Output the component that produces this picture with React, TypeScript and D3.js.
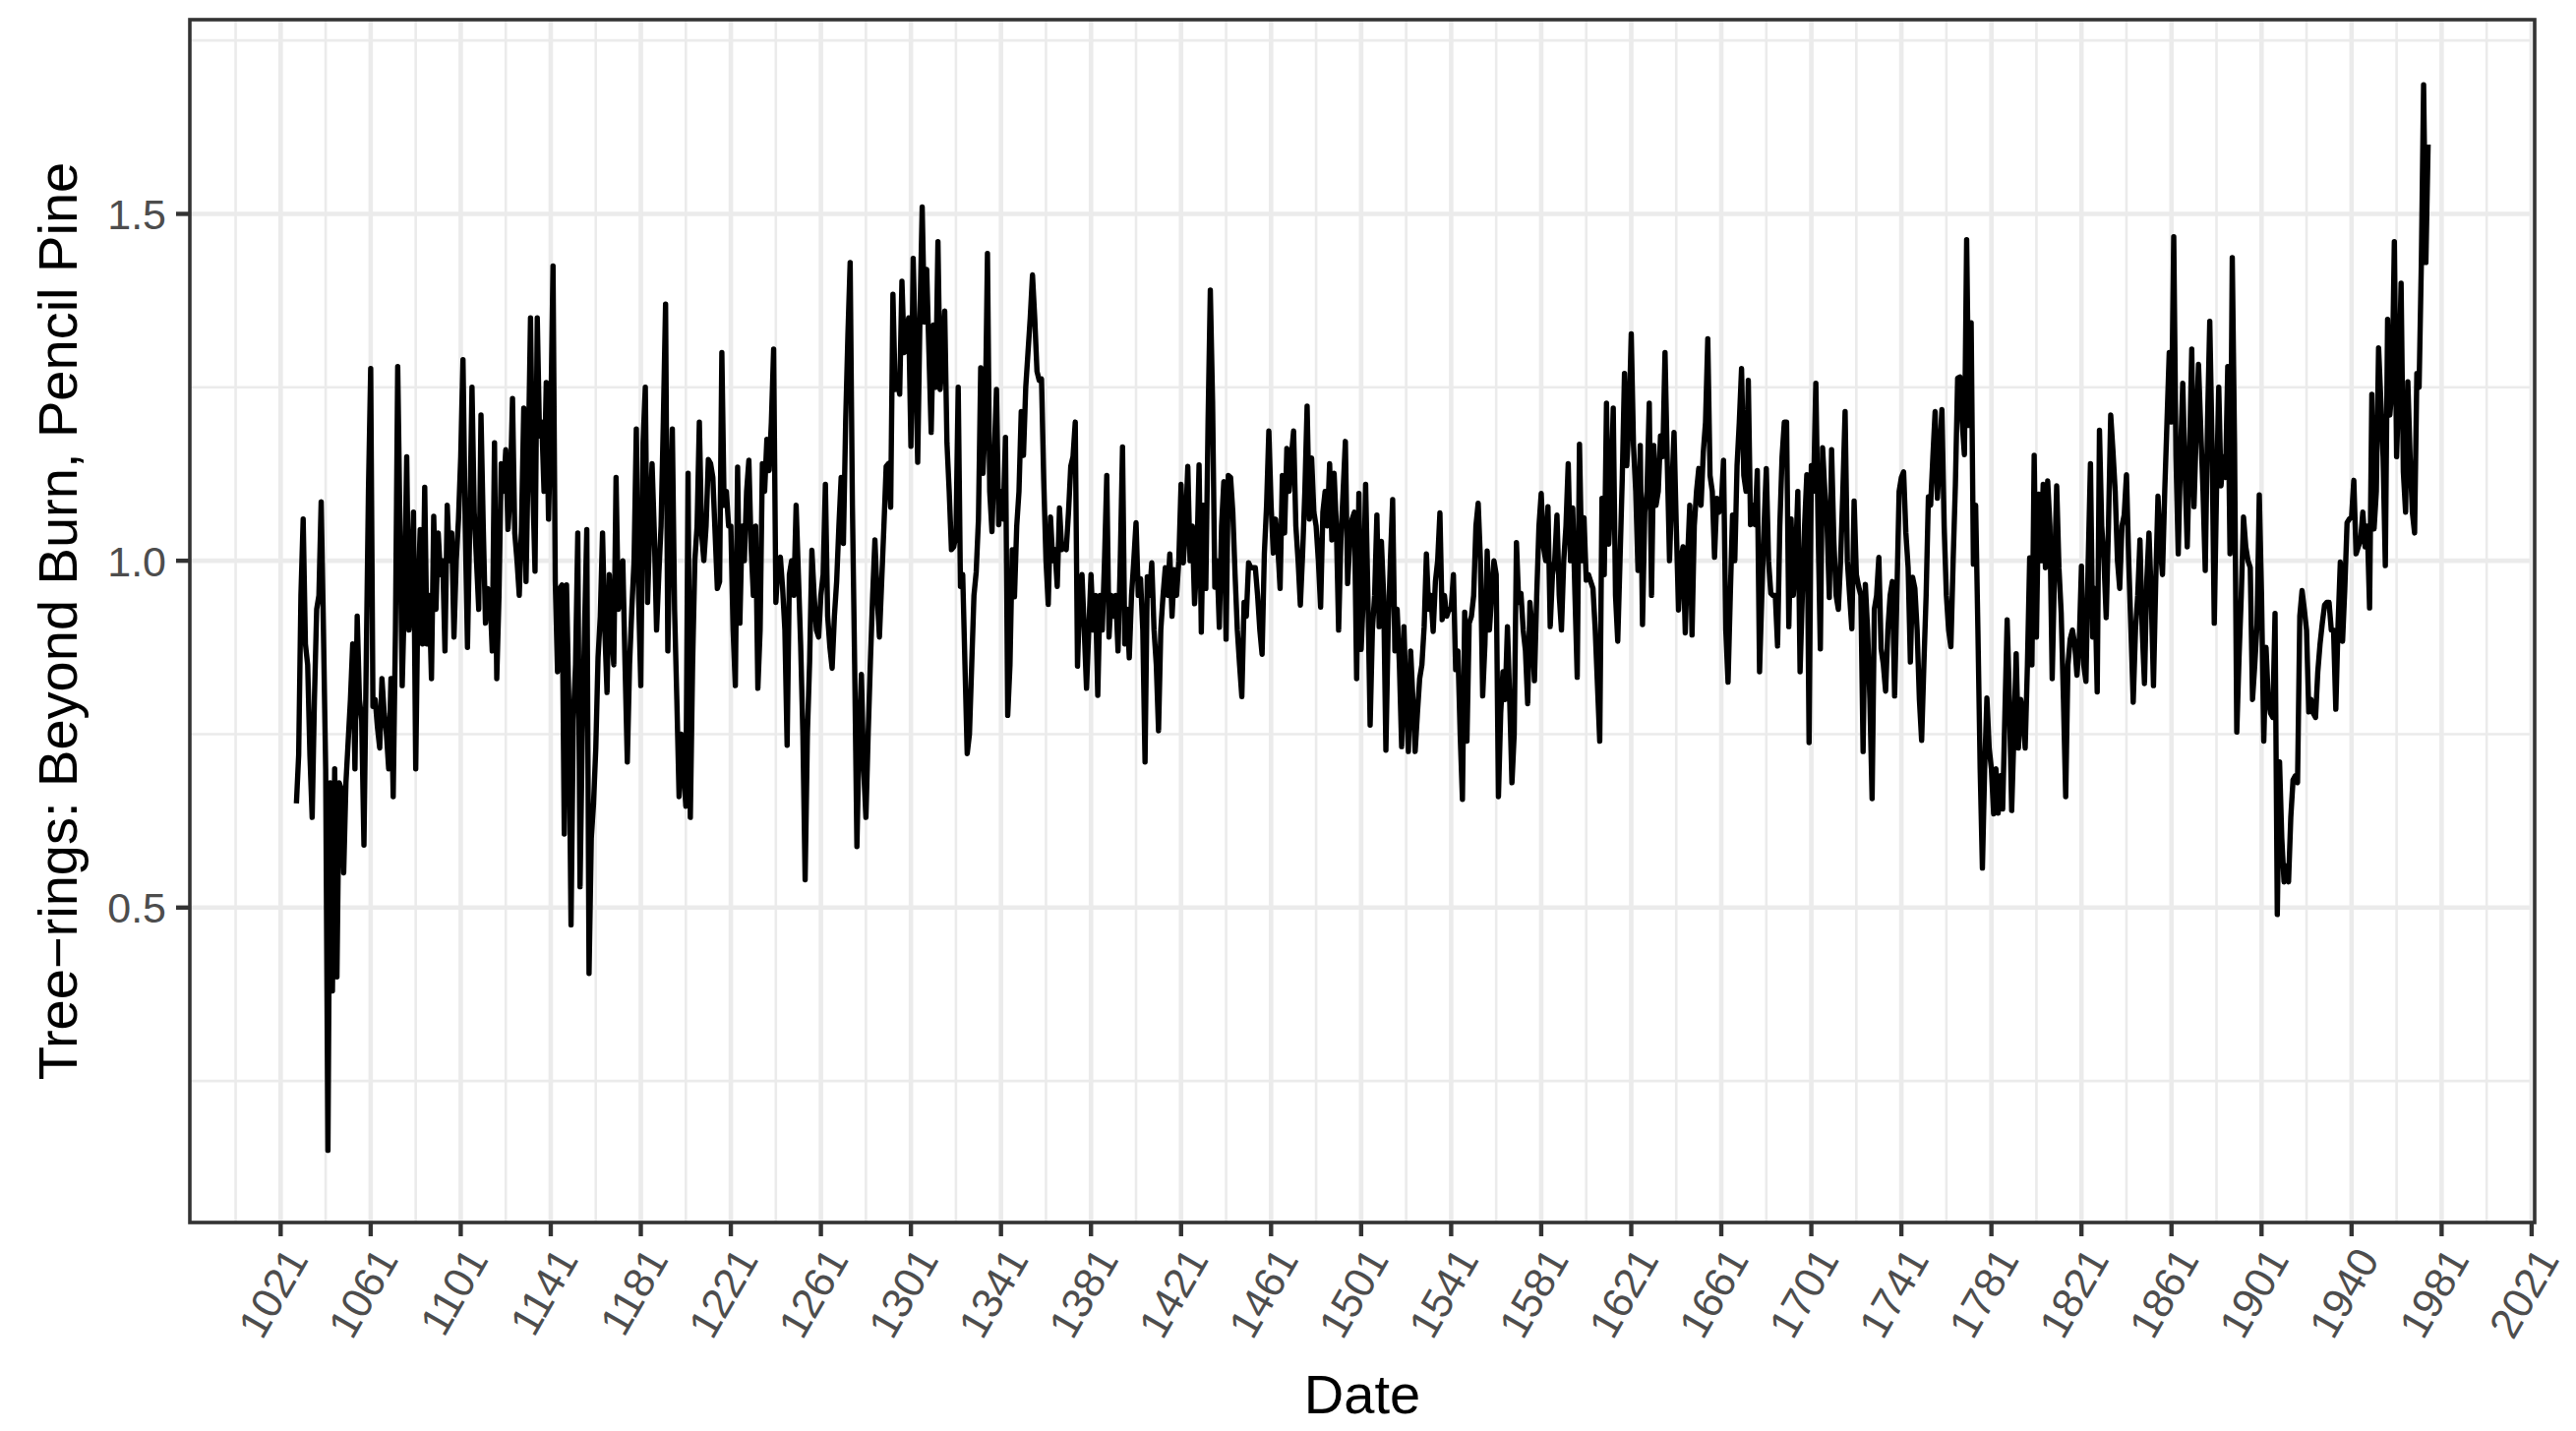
import React from "react";
import * as d3 from "d3";

// ---- data: annual tree-ring index, one value per year starting at startYear ----
const startYear = 1028;
const ringIndex: number[] = [
  /*1028*/ 0.65, 0.72,
  /*1030*/ 0.95, 1.06, 0.88, 0.85, 0.72, 0.63, 0.80, 0.93, 0.95, 1.085,
  /*1040*/ 0.90, 0.70, 0.15, 0.68, 0.38, 0.70, 0.40, 0.68, 0.67, 0.55,
  /*1050*/ 0.68, 0.74, 0.80, 0.88, 0.70, 0.92, 0.80, 0.77, 0.59, 0.85,
  /*1060*/ 1.10, 1.277, 0.79, 0.80, 0.76, 0.73, 0.83, 0.78, 0.75, 0.70,
  /*1070*/ 0.83, 0.66, 0.90, 1.28, 1.05, 0.82, 0.95, 1.15, 0.90, 0.95,
  /*1080*/ 1.07, 0.70, 0.95, 1.045, 0.88, 1.106, 0.88, 0.95, 0.83, 1.064,
  /*1090*/ 0.93, 1.04, 0.98, 1.00, 0.87, 1.08, 1.00, 1.04, 0.89, 1.00,
  /*1100*/ 1.06, 1.15, 1.29, 1.05, 0.875, 1.05, 1.25, 1.07, 1.00, 0.93,
  /*1110*/ 1.21, 1.05, 0.91, 0.96, 0.95, 0.87, 1.17, 0.83, 0.95, 1.14,
  /*1120*/ 1.10, 1.16, 1.045, 1.10, 1.234, 1.04, 1.00, 0.95, 1.05, 1.22,
  /*1130*/ 0.97, 1.15, 1.35, 1.11, 0.985, 1.35, 1.18, 1.20, 1.10, 1.257,
  /*1140*/ 1.06, 1.20, 1.425, 0.97, 0.84, 0.96, 0.965, 0.606, 0.965, 0.80,
  /*1150*/ 0.475, 0.77, 0.85, 1.04, 0.53, 0.75, 0.90, 1.045, 0.405, 0.60,
  /*1160*/ 0.65, 0.73, 0.86, 0.92, 1.04, 0.90, 0.81, 0.98, 0.90, 0.85,
  /*1170*/ 1.12, 0.93, 0.95, 1.00, 0.85, 0.71, 0.85, 0.93, 1.00, 1.19,
  /*1180*/ 0.95, 0.82, 1.17, 1.25, 0.94, 1.05, 1.14, 1.04, 0.90, 0.98,
  /*1190*/ 1.05, 1.20, 1.37, 0.87, 1.05, 1.19, 0.93, 0.80, 0.66, 0.75,
  /*1200*/ 0.70, 0.646, 1.126, 0.63, 0.85, 1.00, 1.05, 1.20, 1.04, 1.00,
  /*1210*/ 1.05, 1.146, 1.14, 1.12, 1.04, 0.96, 0.97, 1.30, 1.08, 1.10,
  /*1220*/ 1.05, 1.05, 0.90, 0.82, 1.135, 0.91, 1.05, 1.00, 1.10, 1.145,
  /*1230*/ 1.02, 0.95, 1.05, 0.816, 0.90, 1.14, 1.10, 1.175, 1.13, 1.20,
  /*1240*/ 1.305, 0.94, 1.00, 1.005, 0.96, 0.90, 0.734, 0.98, 1.00, 0.95,
  /*1250*/ 1.08, 0.98, 0.88, 0.75, 0.54, 0.75, 0.855, 1.015, 0.95, 0.90,
  /*1260*/ 0.89, 0.95, 0.98, 1.11, 0.92, 0.875, 0.845, 0.92, 0.97, 1.05,
  /*1270*/ 1.12, 1.025, 1.20, 1.325, 1.43, 1.08, 0.85, 0.588, 0.75, 0.836,
  /*1280*/ 0.70, 0.63, 0.75, 0.855, 0.95, 1.03, 0.95, 0.89, 0.97, 1.05,
  /*1290*/ 1.136, 1.14, 1.077, 1.384, 1.247, 1.26, 1.24, 1.403, 1.30, 1.33,
  /*1300*/ 1.35, 1.165, 1.436, 1.30, 1.142, 1.35, 1.51, 1.344, 1.42, 1.30,
  /*1310*/ 1.185, 1.34, 1.25, 1.46, 1.247, 1.30, 1.36, 1.17, 1.10, 1.016,
  /*1320*/ 1.02, 1.037, 1.25, 0.963, 0.98, 0.85, 0.722, 0.75, 0.85, 0.95,
  /*1330*/ 0.984, 1.06, 1.278, 1.126, 1.20, 1.443, 1.10, 1.042, 1.15, 1.247,
  /*1340*/ 1.052, 1.10, 1.06, 1.178, 0.777, 0.85, 1.016, 0.948, 1.05, 1.10,
  /*1350*/ 1.215, 1.152, 1.25, 1.30, 1.35, 1.412, 1.35, 1.273, 1.26, 1.262,
  /*1360*/ 1.115, 1.00, 0.937, 1.063, 1.00, 1.016, 0.963, 1.076, 1.016, 1.02,
  /*1370*/ 1.016, 1.07, 1.136, 1.15, 1.20, 0.848, 0.95, 0.98, 0.90, 0.816,
  /*1380*/ 0.90, 0.98, 0.90, 0.95, 0.806, 0.95, 0.90, 1.00, 1.123, 0.89,
  /*1390*/ 0.95, 0.92, 0.95, 0.87, 1.00, 1.164, 0.88, 0.93, 0.86, 0.95,
  /*1400*/ 1.00, 1.055, 0.95, 0.974, 0.90, 0.71, 0.977, 0.95, 0.997, 0.90,
  /*1410*/ 0.85, 0.755, 0.90, 0.95, 0.99, 0.95, 1.01, 0.92, 0.987, 0.95,
  /*1420*/ 1.00, 1.11, 0.997, 1.05, 1.136, 1.00, 1.05, 0.938, 1.00, 1.138,
  /*1430*/ 0.897, 1.08, 0.96, 1.20, 1.39, 1.23, 0.962, 1.00, 0.904, 1.05,
  /*1440*/ 1.114, 0.887, 1.123, 1.12, 1.07, 0.98, 0.90, 0.85, 0.804, 0.94,
  /*1450*/ 0.92, 0.997, 0.99, 0.99, 0.99, 0.95, 0.90, 0.865, 1.01, 1.08,
  /*1460*/ 1.187, 1.08, 1.011, 1.06, 1.02, 0.96, 1.123, 1.04, 1.162, 1.10,
  /*1470*/ 1.15, 1.187, 1.05, 1.00, 0.936, 1.01, 1.10, 1.223, 1.06, 1.148,
  /*1480*/ 1.07, 1.05, 1.00, 0.933, 1.07, 1.10, 1.05, 1.14, 1.03, 1.126,
  /*1490*/ 1.05, 0.90, 1.03, 1.10, 1.172, 0.967, 1.03, 1.06, 1.07, 0.83,
  /*1500*/ 1.097, 0.872, 0.95, 1.11, 0.95, 0.763, 0.90, 0.95, 1.066, 0.905,
  /*1510*/ 1.028, 0.95, 0.727, 0.90, 1.00, 1.088, 0.87, 0.93, 0.85, 0.732,
  /*1520*/ 0.905, 0.80, 0.725, 0.87, 0.80, 0.725, 0.78, 0.83, 0.85, 0.905,
  /*1530*/ 1.01, 0.93, 0.95, 0.898, 0.97, 1.00, 1.069, 0.915, 0.95, 0.92,
  /*1540*/ 0.93, 0.93, 0.98, 0.843, 0.87, 0.75, 0.656, 0.926, 0.74, 0.91,
  /*1550*/ 0.92, 0.95, 1.05, 1.083, 1.00, 0.805, 0.88, 1.014, 0.90, 0.95,
  /*1560*/ 1.00, 0.98, 0.66, 0.78, 0.84, 0.80, 0.905, 0.80, 0.68, 0.75,
  /*1570*/ 1.026, 0.94, 0.953, 0.90, 0.87, 0.794, 0.94, 0.90, 0.827, 0.95,
  /*1580*/ 1.05, 1.097, 1.02, 1.00, 1.078, 0.905, 0.98, 1.00, 1.066, 0.95,
  /*1590*/ 0.90, 1.00, 1.05, 1.14, 1.00, 1.076, 0.95, 0.832, 1.168, 1.00,
  /*1600*/ 1.062, 0.972, 0.98, 0.97, 0.96, 0.90, 0.82, 0.74, 1.09, 0.98,
  /*1610*/ 1.227, 1.024, 1.10, 1.22, 0.95, 0.884, 1.00, 1.118, 1.27, 1.137,
  /*1620*/ 1.20, 1.327, 1.166, 1.10, 0.986, 1.166, 0.908, 1.07, 1.10, 1.227,
  /*1630*/ 0.95, 1.166, 1.08, 1.10, 1.18, 1.15, 1.30, 1.142, 1.00, 1.10,
  /*1640*/ 1.185, 1.05, 0.929, 1.00, 1.02, 0.896, 1.00, 1.08, 0.893, 1.05,
  /*1650*/ 1.10, 1.133, 1.08, 1.156, 1.20, 1.32, 1.123, 1.10, 1.005, 1.09,
  /*1660*/ 1.07, 1.08, 1.145, 0.90, 0.825, 0.95, 1.066, 1.00, 1.137, 1.20,
  /*1670*/ 1.277, 1.123, 1.10, 1.26, 1.052, 1.08, 1.052, 1.13, 0.84, 0.95,
  /*1680*/ 1.05, 1.133, 1.00, 0.953, 0.95, 0.95, 0.877, 1.05, 1.15, 1.20,
  /*1690*/ 1.20, 0.905, 1.06, 0.95, 1.00, 1.10, 0.84, 0.95, 1.05, 1.124,
  /*1700*/ 0.738, 1.137, 1.10, 1.256, 1.05, 0.873, 1.163, 1.10, 1.05, 0.947,
  /*1710*/ 1.16, 1.03, 0.95, 0.93, 1.00, 1.10, 1.215, 1.00, 0.95, 0.902,
  /*1720*/ 1.086, 0.98, 0.963, 0.95, 0.725, 0.966, 0.90, 0.80, 0.657, 0.93,
  /*1730*/ 0.95, 1.005, 0.873, 0.85, 0.812, 0.90, 0.95, 0.97, 0.805, 0.95,
  /*1740*/ 1.10, 1.12, 1.128, 1.04, 0.99, 0.854, 0.976, 0.96, 0.90, 0.80,
  /*1750*/ 0.741, 0.85, 0.95, 1.092, 1.08, 1.15, 1.215, 1.09, 1.15, 1.218,
  /*1760*/ 1.05, 0.95, 0.90, 0.876, 1.00, 1.11, 1.263, 1.265, 1.20, 1.153,
  /*1770*/ 1.463, 1.195, 1.343, 0.995, 1.08, 0.90, 0.70, 0.557, 0.70, 0.802,
  /*1780*/ 0.73, 0.70, 0.635, 0.70, 0.636, 0.69, 0.642, 0.78, 0.915, 0.80,
  /*1790*/ 0.64, 0.75, 0.866, 0.73, 0.80, 0.78, 0.73, 0.85, 1.004, 0.85,
  /*1800*/ 1.152, 0.89, 1.096, 1.00, 1.11, 0.99, 1.115, 1.05, 0.83, 0.98,
  /*1810*/ 1.108, 0.99, 0.925, 0.80, 0.66, 0.85, 0.887, 0.90, 0.88, 0.835,
  /*1820*/ 0.88, 0.992, 0.85, 0.826, 1.00, 1.14, 0.89, 0.96, 0.811, 1.188,
  /*1830*/ 1.05, 1.00, 0.918, 1.05, 1.21, 1.158, 1.10, 1.00, 0.96, 1.05,
  /*1840*/ 1.066, 1.124, 1.00, 0.90, 0.796, 0.90, 0.95, 1.03, 0.90, 0.823,
  /*1850*/ 0.97, 1.04, 0.95, 0.82, 0.97, 1.093, 1.02, 0.98, 1.10, 1.20,
  /*1860*/ 1.30, 1.20, 1.467, 1.15, 1.01, 1.15, 1.256, 1.13, 1.02, 1.15,
  /*1870*/ 1.305, 1.078, 1.188, 1.283, 1.19, 1.10, 0.986, 1.20, 1.345, 1.17,
  /*1880*/ 0.91, 1.10, 1.25, 1.108, 1.15, 1.12, 1.28, 1.01, 1.437, 1.17,
  /*1890*/ 0.753, 0.86, 0.95, 1.063, 1.02, 1.00, 0.99, 0.80, 0.85, 0.908,
  /*1900*/ 1.095, 0.95, 0.74, 0.875, 0.80, 0.78, 0.774, 0.924, 0.49, 0.71,
  /*1910*/ 0.60, 0.537, 0.56, 0.537, 0.63, 0.684, 0.69, 0.68, 0.92, 0.957,
  /*1920*/ 0.93, 0.90, 0.782, 0.80, 0.78, 0.774, 0.84, 0.88, 0.91, 0.936,
  /*1930*/ 0.94, 0.94, 0.90, 0.90, 0.786, 0.908, 0.998, 0.884, 0.96, 1.055,
  /*1940*/ 1.06, 1.063, 1.116, 1.01, 1.02, 1.03, 1.07, 1.02, 1.05, 0.932,
  /*1950*/ 1.24, 1.046, 1.10, 1.307, 1.23, 1.15, 0.993, 1.348, 1.21, 1.25,
  /*1960*/ 1.46, 1.15, 1.25, 1.40, 1.128, 1.07, 1.258, 1.15, 1.07, 1.04,
  /*1970*/ 1.27, 1.25, 1.43, 1.686, 1.43, 1.60,
];

// ---- axis ticks ----
const xTickYears = [
  1021, 1061, 1101, 1141, 1181, 1221, 1261, 1301, 1341, 1381, 1421, 1461, 1501,
  1541, 1581, 1621, 1661, 1701, 1741, 1781, 1821, 1861, 1901, 1941, 1981, 2021,
];
const xTickLabels = [
  "1021", "1061", "1101", "1141", "1181", "1221", "1261", "1301", "1341", "1381",
  "1421", "1461", "1501", "1541", "1581", "1621", "1661", "1701", "1741", "1781",
  "1821", "1861", "1901", "1940", "1981", "2021",
];
const xMinorYears = [
  1001, 1041, 1081, 1121, 1161, 1201, 1241, 1281, 1321, 1361, 1401, 1441, 1481,
  1521, 1561, 1601, 1641, 1681, 1721, 1761, 1801, 1841, 1881, 1921, 1961, 2001,
];
const yTickValues = [0.5, 1.0, 1.5];
const yTickLabels = ["0.5", "1.0", "1.5"];
const yMinorValues = [0.25, 0.75, 1.25, 1.75];
const yDomain = [0.046, 1.78];

const xTitle = "Date";
const yTitle = "Tree\u2212rings: Beyond Burn, Pencil Pine";

// ---- layout ----
const W = 2619;
const H = 1455;
const P = { left: 193, right: 2577, top: 20, bottom: 1243 };
const FONT = '"Liberation Sans", Arial, Helvetica, sans-serif';
const GRID = "#EBEBEB";
const DARK = "#333333";
const TICK_TEXT = "#4D4D4D";
const TICK_LEN = 14;
const TICK_FS = 43;
const TITLE_FS = 56;

export default function App() {
  const series = ringIndex.map((v, i) => ({ year: startYear + i, value: v }));
  const ext = d3.extent(series, (d) => d.year) as [number, number];
  const pad = (ext[1] - ext[0]) * 0.05;
  const x = d3.scaleLinear().domain([ext[0] - pad, ext[1] + pad]).range([P.left, P.right]);
  const y = d3.scaleLinear().domain(yDomain).range([P.bottom, P.top]);
  const line = d3
    .line<{ year: number; value: number }>()
    .x((d) => x(d.year))
    .y((d) => y(d.value));

  const inX = (v: number) => v >= x.domain()[0] && v <= x.domain()[1];
  const inY = (v: number) => v >= yDomain[0] && v <= yDomain[1];

  return (
    <svg
      width={W}
      height={H}
      viewBox={`0 0 ${W} ${H}`}
      style={{ position: "absolute", left: 0, top: 0, background: "#fff" }}
      fontFamily={FONT}
    >
      <rect x={0} y={0} width={W} height={H} fill="#fff" />
      <defs>
        <clipPath id="panel">
          <rect x={P.left} y={P.top} width={P.right - P.left} height={P.bottom - P.top} />
        </clipPath>
      </defs>
      <g clipPath="url(#panel)">
        {yMinorValues.filter(inY).map((v) => (
          <line key={"ym" + v} x1={P.left} x2={P.right} y1={y(v)} y2={y(v)} stroke={GRID} strokeWidth={2.6} />
        ))}
        {xMinorYears.filter(inX).map((v) => (
          <line key={"xm" + v} x1={x(v)} x2={x(v)} y1={P.top} y2={P.bottom} stroke={GRID} strokeWidth={2.6} />
        ))}
        {yTickValues.map((v) => (
          <line key={"yM" + v} x1={P.left} x2={P.right} y1={y(v)} y2={y(v)} stroke={GRID} strokeWidth={4.6} />
        ))}
        {xTickYears.map((v) => (
          <line key={"xM" + v} x1={x(v)} x2={x(v)} y1={P.top} y2={P.bottom} stroke={GRID} strokeWidth={4.6} />
        ))}
        <path
          d={line(series) || ""}
          fill="none"
          stroke="#000"
          strokeWidth={5.4}
          strokeLinejoin="round"
          strokeLinecap="butt"
        />
      </g>
      <rect
        x={P.left}
        y={P.top}
        width={P.right - P.left}
        height={P.bottom - P.top}
        fill="none"
        stroke={DARK}
        strokeWidth={3.6}
      />
      {/* y axis */}
      {yTickValues.map((v, i) => (
        <g key={"yt" + v}>
          <line x1={P.left - TICK_LEN} x2={P.left} y1={y(v)} y2={y(v)} stroke={DARK} strokeWidth={4.4} />
          <text
            x={P.left - TICK_LEN - 10}
            y={y(v)}
            dy="0.36em"
            textAnchor="end"
            fontSize={TICK_FS}
            fill={TICK_TEXT}
          >
            {yTickLabels[i]}
          </text>
        </g>
      ))}
      {/* x axis */}
      {xTickYears.map((v, i) => (
        <g key={"xt" + v}>
          <line x1={x(v)} x2={x(v)} y1={P.bottom} y2={P.bottom + TICK_LEN} stroke={DARK} strokeWidth={4.4} />
          <text
            transform={`translate(${x(v) + 2}, ${P.bottom + TICK_LEN + 8}) rotate(-60)`}
            textAnchor="end"
            dominantBaseline="hanging"
            fontSize={TICK_FS}
            fill={TICK_TEXT}
          >
            {xTickLabels[i]}
          </text>
        </g>
      ))}
      <text x={(P.left + P.right) / 2} y={1437} textAnchor="middle" fontSize={TITLE_FS} fill="#000">
        {xTitle}
      </text>
      <text
        transform={`translate(78, ${(P.top + P.bottom) / 2}) rotate(-90)`}
        textAnchor="middle"
        fontSize={TITLE_FS}
        fill="#000"
      >
        {yTitle}
      </text>
    </svg>
  );
}
